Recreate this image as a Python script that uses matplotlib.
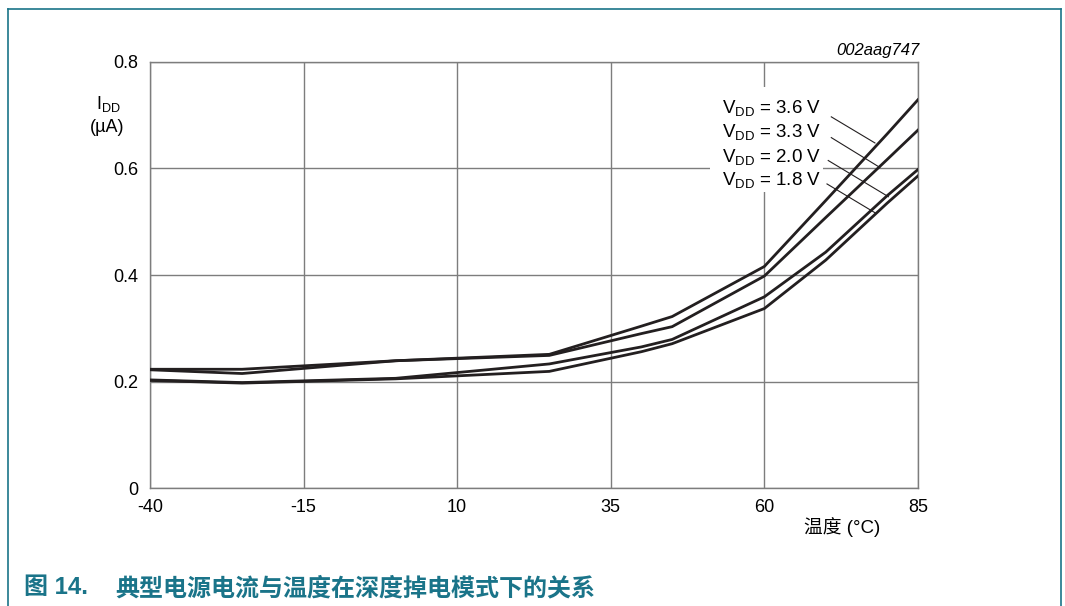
import matplotlib
matplotlib.use("Agg")
import matplotlib.pyplot as plt
from matplotlib.lines import Line2D
from matplotlib.patches import Rectangle

plt.rcParams['font.family'] = ['Liberation Sans', 'Noto Sans CJK SC']
plt.rcParams['mathtext.fontset'] = 'custom'
plt.rcParams['mathtext.rm'] = 'Liberation Sans'
plt.rcParams['mathtext.it'] = 'Liberation Sans:italic'

# temperature points (degC)
temps = [-40, -25, 0, 25, 40, 45, 60, 70, 80, 85]
# supply current (uA) per VDD
idd_36 = [0.223, 0.223, 0.239, 0.251, 0.304, 0.322, 0.416, 0.540, 0.665, 0.729]
idd_33 = [0.222, 0.215, 0.239, 0.249, 0.290, 0.303, 0.398, 0.508, 0.617, 0.672]
idd_20 = [0.203, 0.198, 0.206, 0.233, 0.265, 0.279, 0.359, 0.443, 0.549, 0.598]
idd_18 = [0.202, 0.197, 0.205, 0.219, 0.256, 0.271, 0.337, 0.428, 0.535, 0.586]
series = [idd_36, idd_33, idd_20, idd_18]
labels = ["3.6", "3.3", "2.0", "1.8"]
# leader lines: label end -> curve
leaders = [((70.9, 0.697), (78.0, 0.648)),
           ((70.9, 0.658), (78.8, 0.602)),
           ((70.4, 0.615), (80.2, 0.547)),
           ((70.2, 0.571), (78.0, 0.517))]
label_y = [0.713, 0.668, 0.622, 0.578]

xticks = [-40, -15, 10, 35, 60, 85]
yticks = [0, 0.2, 0.4, 0.6, 0.8]
teal = '#1a7489'
grid_c = '#7d7d7d'

fig = plt.figure(figsize=(10.65, 6.06), dpi=100)
ax = fig.add_axes([0.1408, 0.1947, 0.7211, 0.703])

for vals in series:
    ax.plot(temps, vals, color='#231f20', lw=2.0, solid_joinstyle='miter', zorder=4)

for (p0, p1) in leaders:
    ax.plot([p0[0], p1[0]], [p0[1], p1[1]], color='#231f20', lw=0.8, zorder=5)

# white box behind the labels (breaks the grid lines)
ax.add_patch(Rectangle((51.1, 0.556), 18.4, 0.197, facecolor='white',
                       edgecolor='none', zorder=2))
for lab, yy in zip(labels, label_y):
    ax.text(69.3, yy, r'V$_{\mathrm{DD}}$ = ' + lab + ' V', ha='right', va='center',
            fontsize=13.5, zorder=3)

ax.set_xlim(-40, 85)
ax.set_ylim(0, 0.8)
ax.set_xticks(xticks)
ax.set_xticklabels([str(t) for t in xticks])
ax.set_yticks(yticks)
ax.set_yticklabels(['0', '0.2', '0.4', '0.6', '0.8'])
ax.tick_params(length=0, labelsize=13)
ax.tick_params(axis='y', pad=8.5)
ax.tick_params(axis='x', pad=8)
ax.grid(True, color=grid_c, lw=1.0, zorder=0)
ax.set_axisbelow(True)
for s in ax.spines.values():
    s.set_color(grid_c)
    s.set_linewidth(1.0)

fig.text(108 / 1065, 1 - 104 / 606, r'I$_{\mathrm{DD}}$', ha='center', va='center', fontsize=13)
fig.text(107 / 1065, 1 - 128 / 606, '(µA)', ha='center', va='center', fontsize=13)
fig.text(842 / 1065, 1 - 527 / 606, '温度 (°C)', ha='center', va='center', fontsize=13.5)
fig.text(920 / 1065, 1 - 50 / 606, '002aag747', ha='right', va='center',
         fontsize=12, style='italic')

fig.text(24 / 1065, 1 - 588 / 606, '图 14.', ha='left', va='center', fontsize=17.3,
         color=teal, fontweight='bold', family=['Liberation Sans', 'Noto Sans CJK SC'])
fig.text(115 / 1065, 1 - 588 / 606, '典型电源电流与温度在深度掉电模式下的关系', ha='left',
         va='center', fontsize=17.3, color=teal, fontweight='bold',
         family=['Noto Sans CJK SC'])

# outer frame (top, left, right)
fy = 1 - 8.5 / 606
fig.add_artist(Line2D([7.5 / 1065, 1061 / 1065], [fy, fy], color=teal, lw=1.2))
fig.add_artist(Line2D([7.5 / 1065, 7.5 / 1065], [fy, 0], color=teal, lw=1.2))
fig.add_artist(Line2D([1061 / 1065, 1061 / 1065], [fy, 0], color=teal, lw=1.2))

fig.savefig('out.png', dpi=100)
